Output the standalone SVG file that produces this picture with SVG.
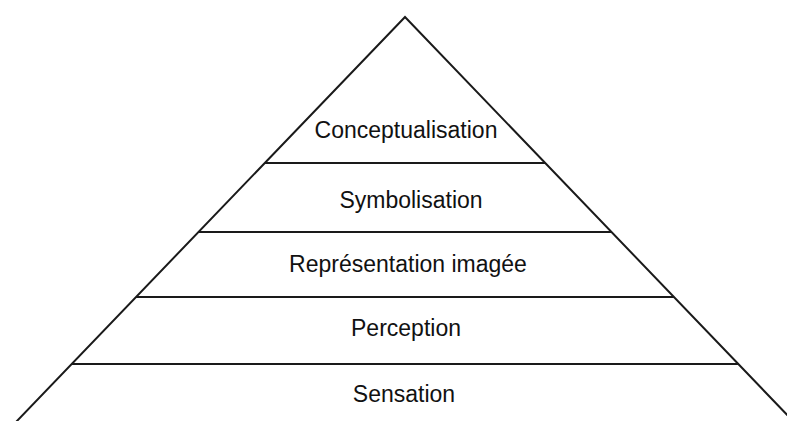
<svg xmlns="http://www.w3.org/2000/svg" width="787" height="421" viewBox="0 0 787 421">
<style>
.edge{stroke:#1a1a1a;stroke-width:2;fill:none;stroke-linecap:butt}
.lbl{font-family:"Liberation Sans",Arial,sans-serif;font-size:23px;fill:#111;text-anchor:middle}
</style>
<rect width="787" height="421" fill="#fff"/>
<g id="connectors">
<path class="edge" d="M16,422 L405,17 L794,422"/>
<line class="edge" x1="265" y1="163" x2="545" y2="163"/>
<line class="edge" x1="198" y1="232" x2="612" y2="232"/>
<line class="edge" x1="136" y1="297" x2="674" y2="297"/>
<line class="edge" x1="72" y1="364" x2="739" y2="364"/>
</g>
<g id="conceptualisation"><text class="lbl" x="406" y="138">Conceptualisation</text></g>
<g id="symbolisation"><text class="lbl" x="411" y="208">Symbolisation</text></g>
<g id="representation"><text class="lbl" x="408" y="272">Représentation imagée</text></g>
<g id="perception"><text class="lbl" x="406" y="336">Perception</text></g>
<g id="sensation"><text class="lbl" x="404" y="402">Sensation</text></g>
</svg>
